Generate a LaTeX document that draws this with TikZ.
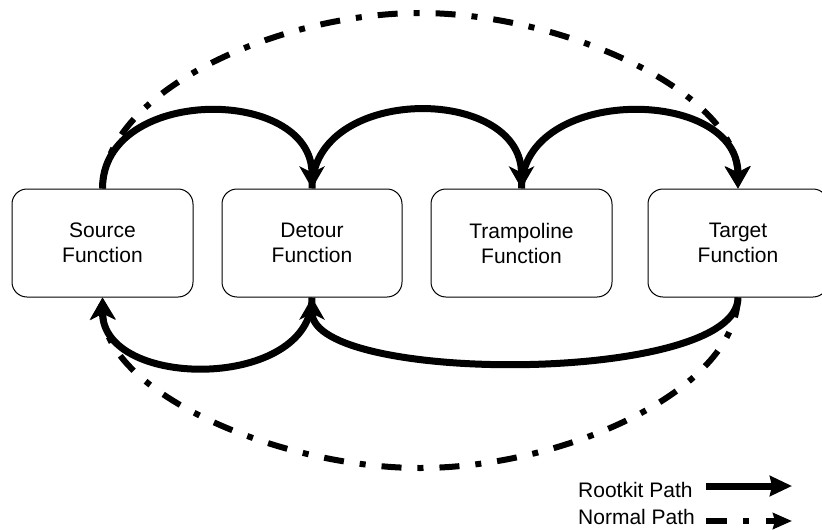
\documentclass[tikz,border=0pt]{standalone}
\usepackage{fontspec}
\setmainfont{Liberation Sans}
\usetikzlibrary{arrows.meta}
\begin{document}
\begin{tikzpicture}[x=1pt,y=-1pt,
  fbox/.style={draw=black, line width=1pt, rounded corners=15pt, minimum width=181pt, minimum height=108pt, inner sep=0pt, align=center, font=\fontsize{21}{25}\selectfont},
  rk/.style={line width=7pt, -{Stealth[length=22pt,width=25pt,inset=6pt]}},
  np/.style={line width=6pt, dash pattern=on 20pt off 16pt on 6pt off 16pt, -{Stealth[length=22pt,width=25pt,inset=6pt]}},
  lbl/.style={anchor=base west, inner sep=0pt, font=\fontsize{21}{25}\selectfont}]
\useasboundingbox (0,0) rectangle (822,530);

\node[fbox] (S) at (102.5,243) {Source\\Function};
\node[fbox, minimum width=180pt] (D) at (312,243) {Detour\\Function};
\node[fbox] (Tr) at (521.5,243) {Trampoline\\Function};
\node[fbox, minimum width=180pt] (Ta) at (738,243) {Target\\Function};

% normal path (dash-dot)
\draw[np] (S.north) .. controls (105,90) and (280,13) .. (420,13)
          .. controls (560,13) and (735,90) .. (Ta.north);
\draw[np] (Ta.south) .. controls (735,393) and (560,468) .. (420,468)
          .. controls (280,468) and (105,393) .. (S.south);

% rootkit path (solid)
\draw[rk] (S.north) .. controls ([yshift=103pt]S.north) and ([yshift=103pt]D.north) .. (D.north);
\draw[rk] (D.north) .. controls ([yshift=104pt]D.north) and ([yshift=104pt]Tr.north) .. (Tr.north);
\draw[rk] (Tr.north) .. controls ([yshift=103pt]Tr.north) and ([yshift=103pt]Ta.north) .. (Ta.north);
\draw[rk] (Ta.south) .. controls ([yshift=-87pt]Ta.south) and ([yshift=-87pt]D.south) .. (D.south);
\draw[rk] (D.south) .. controls ([yshift=-93pt]D.south) and ([yshift=-93pt]S.south) .. (S.south);

% legend
\node[lbl] (l1) at (578,497) {Rootkit Path};
\node[lbl] (l2) at (578,524) {Normal Path};
\coordinate (r1) at (706,486);
\coordinate (r2) at (792,486);
\coordinate (n1) at (706,521);
\coordinate (n2) at (792,521);
\draw[line width=7pt, -{Stealth[length=22pt,width=20pt,inset=2pt]}] (r1) -- (r2);
\draw[line width=6pt, dash pattern=on 21pt off 16pt on 6pt off 17pt, -{Stealth[length=19pt,width=16pt,inset=2pt]}] (n1) -- (n2);
\end{tikzpicture}
\end{document}
